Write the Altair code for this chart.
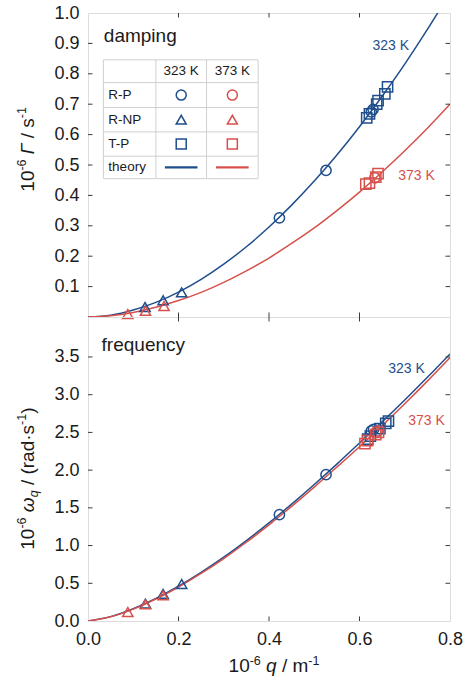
import altair as alt
import pandas as pd

# ---------------- data ----------------
q_grid = [0.0, 0.05, 0.10, 0.15, 0.20, 0.25, 0.30, 0.35, 0.40, 0.45, 0.50,
          0.55, 0.60, 0.65, 0.70, 0.75, 0.80]
gamma_theory_323 = [0.0, 0.006, 0.023, 0.048, 0.082, 0.124, 0.174, 0.231, 0.296,
                    0.368, 0.447, 0.533, 0.626, 0.726, 0.832, 0.946, 1.066]
gamma_theory_373 = [0.0, 0.004, 0.015, 0.032, 0.054, 0.081, 0.114, 0.152, 0.194,
                    0.242, 0.293, 0.350, 0.411, 0.477, 0.547, 0.621, 0.700]
omega_theory_323 = [0.0, 0.058, 0.163, 0.299, 0.461, 0.644, 0.846, 1.066, 1.30,
                    1.55, 1.81, 2.08, 2.36, 2.64, 2.93, 3.23, 3.54]
omega_theory_373 = [0.0, 0.056, 0.158, 0.292, 0.450, 0.630, 0.828, 1.044, 1.275,
                    1.52, 1.775, 2.04, 2.31, 2.59, 2.88, 3.18, 3.49]

# damping (Gamma) measurements
g_rp_323_q = [0.423, 0.526, 0.626, 0.630]
g_rp_323_v = [0.326, 0.482, 0.675, 0.683]
g_rp_373_q = [0.634]
g_rp_373_v = [0.458]
g_rnp_323_q = [0.126, 0.166, 0.207]
g_rnp_323_v = [0.033, 0.055, 0.081]
g_rnp_373_q = [0.088, 0.127, 0.168]
g_rnp_373_v = [0.010, 0.020, 0.036]
g_tp_323_q = [0.616, 0.622, 0.638, 0.641, 0.656, 0.662]
g_tp_323_v = [0.655, 0.668, 0.700, 0.712, 0.734, 0.757]
g_tp_373_q = [0.614, 0.622, 0.636, 0.641]
g_tp_373_v = [0.437, 0.440, 0.460, 0.472]

# frequency (omega) measurements
w_rp_323_q = [0.423, 0.526, 0.626, 0.631]
w_rp_323_v = [1.41, 1.94, 2.52, 2.54]
w_rp_373_q = [0.636, 0.640]
w_rp_373_v = [2.50, 2.52]
w_rnp_323_q = [0.127, 0.166, 0.207]
w_rnp_323_v = [0.23, 0.36, 0.49]
w_rnp_373_q = [0.088, 0.127, 0.166]
w_rnp_373_v = [0.12, 0.22, 0.34]
w_tp_323_q = [0.618, 0.624, 0.645, 0.658, 0.664]
w_tp_323_v = [2.41, 2.45, 2.55, 2.62, 2.65]
w_tp_373_q = [0.612, 0.618, 0.636, 0.642]
w_tp_373_v = [2.35, 2.39, 2.47, 2.50]

temps = ["323 K", "373 K"]
types = ["R-P", "R-NP", "T-P"]
x_ticks = [0.0, 0.2, 0.4, 0.6, 0.8]
g_ticks = [0.1, 0.2, 0.3, 0.4, 0.5, 0.6, 0.7, 0.8, 0.9, 1.0]
w_ticks = [0.0, 0.5, 1.0, 1.5, 2.0, 2.5, 3.0, 3.5]

# legend table geometry (in data units of the damping panel)
tab_cols = [0.034, 0.150, 0.262, 0.376]
tab_rows = [0.846, 0.771, 0.689, 0.609, 0.529, 0.455]
tab_labels = ["R-P", "R-NP", "T-P", "theory"]

# ---------------- style ----------------
BLUE = "#1F4E8C"
RED = "#D6504C"
FRAME = "#3c3c3c"
GRID = "#d0d0d0"
TXT = "#1a1a1a"
FONT = "Liberation Sans"
W = 362
H1 = 304
H2 = 304
TICK = 4.5

color_scale = alt.Scale(domain=temps, range=[BLUE, RED])
shape_scale = alt.Scale(domain=types, range=["circle", "triangle-up", "square"])
xscale = alt.Scale(domain=[0, 0.8], nice=False, zero=False)


def long_points(entries):
    rows = []
    for typ, temp, qs, vs in entries:
        for a, b in zip(qs, vs):
            rows.append({"q": a, "v": b, "temp": temp, "type": typ})
    return pd.DataFrame(rows)


def theory_df(v323, v373):
    rows = []
    for temp, vs in (("323 K", v323), ("373 K", v373)):
        for a, b in zip(q_grid, vs):
            rows.append({"q": a, "v": b, "temp": temp})
    return pd.DataFrame(rows)


AW = {'0': .556, '1': .556, '6': .556, '-': .333, ' ': .278, '/': .278, 's': .5,
      'Γ': .556, 'ω': .781, 'q': .556, '(': .333, ')': .333, 'r': .333, 'a': .556,
      'd': .556, '·': .333, 'm': .833}


def text_width(t, fs):
    return sum(AW.get(c, .556) for c in t) * fs


def rich_text(pieces, x, y, angle=0):
    total = sum(text_width(t, fs) for t, fs, _, _ in pieces)
    pos = -total / 2
    out = []
    anchor = pd.DataFrame({"a": [0]})
    for t, fs, style, shift in pieces:
        lead = len(t) - len(t.lstrip(" "))
        core = t.strip(" ")
        if core:
            out.append(alt.Chart(anchor).mark_text(
                text=core, fontSize=fs, fontStyle=style, font=FONT, align="left",
                baseline="alphabetic", angle=angle, dx=pos + lead * AW[' '] * fs, dy=shift,
                color=TXT
            ).encode(x=alt.value(x), y=alt.value(y)))
        pos += text_width(t, fs)
    return out


def panel(Xenc, Yenc, yvals_ticks, line_df, pt_df, height):
    layers = []
    lines = alt.Chart(line_df).mark_line(strokeWidth=1.5, interpolate="monotone", clip=True).encode(
        x=Xenc, y=Yenc, color=alt.Color("temp:N", scale=color_scale, legend=None),
        detail="temp:N")
    pts = alt.Chart(pt_df).mark_point(filled=False, size=105, strokeWidth=1.5, opacity=1).encode(
        x=Xenc, y=Yenc,
        color=alt.Color("temp:N", scale=color_scale, legend=None),
        shape=alt.Shape("type:N", scale=shape_scale, legend=None))
    layers += [lines, pts]
    yt = pd.DataFrame({"v": yvals_ticks})
    layers.append(alt.Chart(yt).mark_rule(color=FRAME, strokeWidth=1).encode(
        y=Yenc, x=alt.value(0), x2=alt.value(TICK)))
    layers.append(alt.Chart(yt).mark_rule(color=FRAME, strokeWidth=1).encode(
        y=Yenc, x=alt.value(W - TICK), x2=alt.value(W)))
    xt = pd.DataFrame({"q": [0.2, 0.4, 0.6]})
    layers.append(alt.Chart(xt).mark_rule(color=FRAME, strokeWidth=1).encode(
        x=Xenc, y=alt.value(0), y2=alt.value(TICK)))
    layers.append(alt.Chart(xt).mark_rule(color=FRAME, strokeWidth=1).encode(
        x=Xenc, y=alt.value(height - TICK), y2=alt.value(height)))
    return layers


# ---------------- top panel: damping ----------------
Xtop = alt.X("q:Q", scale=xscale, axis=None)
Ytop = alt.Y("v:Q", scale=alt.Scale(domain=[0, 1.0], nice=False),
             axis=alt.Axis(values=g_ticks, format=".1f", ticks=False, domain=False, grid=False,
                           labelFontSize=18, labelPadding=9, title=None, labelFont=FONT,
                           labelColor=TXT, labelFlush=False))

g_pts = long_points([
    ("R-P", "323 K", g_rp_323_q, g_rp_323_v), ("R-P", "373 K", g_rp_373_q, g_rp_373_v),
    ("R-NP", "323 K", g_rnp_323_q, g_rnp_323_v), ("R-NP", "373 K", g_rnp_373_q, g_rnp_373_v),
    ("T-P", "323 K", g_tp_323_q, g_tp_323_v), ("T-P", "373 K", g_tp_373_q, g_tp_373_v)])

top_layers = panel(Xtop, Ytop, [0.1, 0.2, 0.3, 0.4, 0.5, 0.6, 0.7, 0.8, 0.9],
                   theory_df(gamma_theory_323, gamma_theory_373), g_pts, H1)

# legend table
hrules = pd.DataFrame({"q": [tab_cols[0]] * len(tab_rows), "q2": [tab_cols[-1]] * len(tab_rows),
                       "v": tab_rows})
vrules = pd.DataFrame({"q": tab_cols, "v": [tab_rows[0]] * len(tab_cols),
                       "v2": [tab_rows[-1]] * len(tab_cols)})
top_layers.append(alt.Chart(hrules).mark_rule(color=GRID, strokeWidth=1).encode(
    x=Xtop, x2="q2:Q", y=Ytop))
top_layers.append(alt.Chart(vrules).mark_rule(color=GRID, strokeWidth=1).encode(
    x=Xtop, y=Ytop, y2="v2:Q"))
row_c = [(tab_rows[i] + tab_rows[i + 1]) / 2 for i in range(len(tab_rows) - 1)]
col_c = [(tab_cols[i] + tab_cols[i + 1]) / 2 for i in range(len(tab_cols) - 1)]
hdr = pd.DataFrame({"q": col_c[1:], "v": [row_c[0]] * 2, "t": temps})
top_layers.append(alt.Chart(hdr).mark_text(fontSize=13.5, font=FONT, color=TXT, baseline="middle",
                                           align="center").encode(x=Xtop, y=Ytop, text="t:N"))
rl = pd.DataFrame({"q": [tab_cols[0] + 0.011] * 4, "v": row_c[1:], "t": tab_labels})
top_layers.append(alt.Chart(rl).mark_text(fontSize=13.5, font=FONT, color=TXT, baseline="middle",
                                          align="left").encode(x=Xtop, y=Ytop, text="t:N"))
leg_rows = []
for ti, temp in enumerate(temps):
    for ri, typ in enumerate(types):
        leg_rows.append({"q": col_c[1 + ti], "v": row_c[1 + ri], "temp": temp, "type": typ})
top_layers.append(alt.Chart(pd.DataFrame(leg_rows)).mark_point(
    filled=False, size=100, strokeWidth=1.5, opacity=1).encode(
    x=Xtop, y=Ytop, color=alt.Color("temp:N", scale=color_scale, legend=None),
    shape=alt.Shape("type:N", scale=shape_scale, legend=None)))
leg_lines = pd.DataFrame({"q": [c - 0.036 for c in col_c[1:]], "q2": [c + 0.036 for c in col_c[1:]],
                          "v": [row_c[4]] * 2, "temp": temps})
top_layers.append(alt.Chart(leg_lines).mark_rule(strokeWidth=2.2).encode(
    x=Xtop, x2="q2:Q", y=Ytop, color=alt.Color("temp:N", scale=color_scale, legend=None)))

# panel texts
top_layers.append(alt.Chart(pd.DataFrame({"q": [0.035], "v": [0.904], "t": ["damping"]})).mark_text(
    fontSize=19, font=FONT, color=TXT, align="left", baseline="alphabetic").encode(
    x=Xtop, y=Ytop, text="t:N"))
ann_top = pd.DataFrame({"q": [0.669, 0.726], "v": [0.891, 0.465], "t": temps, "temp": temps})
top_layers.append(alt.Chart(ann_top).mark_text(fontSize=14, font=FONT, baseline="middle",
                                               align="center").encode(
    x=Xtop, y=Ytop, text="t:N", color=alt.Color("temp:N", scale=color_scale, legend=None)))

top_layers += rich_text([("10", 19, "normal", 0), ("-6", 12.5, "normal", -7.5), (" ", 19, "normal", 0),
                         ("Γ", 19, "italic", 0), (" / s", 19, "normal", 0), ("-1", 12.5, "normal", -7.5)],
                        -54.5, 136.4, angle=270)

top = alt.layer(*top_layers).properties(width=W, height=H1)

# ---------------- bottom panel: frequency ----------------
Xbot = alt.X("q:Q", scale=xscale,
             axis=alt.Axis(values=x_ticks, format=".1f", ticks=False, domain=False, grid=False,
                           labelFontSize=18, labelPadding=9, title=None, labelFont=FONT,
                           labelColor=TXT, labelFlush=False))
Ybot = alt.Y("v:Q", scale=alt.Scale(domain=[0, 4.03], nice=False),
             axis=alt.Axis(values=w_ticks, format=".1f", ticks=False, domain=False, grid=False,
                           labelFontSize=18, labelPadding=9, title=None, labelFont=FONT,
                           labelColor=TXT, labelFlush=False))

w_pts = long_points([
    ("R-P", "323 K", w_rp_323_q, w_rp_323_v), ("R-P", "373 K", w_rp_373_q, w_rp_373_v),
    ("R-NP", "323 K", w_rnp_323_q, w_rnp_323_v), ("R-NP", "373 K", w_rnp_373_q, w_rnp_373_v),
    ("T-P", "323 K", w_tp_323_q, w_tp_323_v), ("T-P", "373 K", w_tp_373_q, w_tp_373_v)])

bot_layers = panel(Xbot, Ybot, [0.5, 1.0, 1.5, 2.0, 2.5, 3.0, 3.5],
                   theory_df(omega_theory_323, omega_theory_373), w_pts, H2)
bot_layers.append(alt.Chart(pd.DataFrame({"q": [0.030], "v": [3.58], "t": ["frequency"]})).mark_text(
    fontSize=19, font=FONT, color=TXT, align="left", baseline="alphabetic").encode(
    x=Xbot, y=Ybot, text="t:N"))
ann_bot = pd.DataFrame({"q": [0.704, 0.748], "v": [3.342, 2.652], "t": temps, "temp": temps})
bot_layers.append(alt.Chart(ann_bot).mark_text(fontSize=14, font=FONT, baseline="middle",
                                               align="center").encode(
    x=Xbot, y=Ybot, text="t:N", color=alt.Color("temp:N", scale=color_scale, legend=None)))

bot_layers += rich_text([("10", 19, "normal", 0), ("-6", 12.5, "normal", -7.5), (" ", 19, "normal", 0),
                         ("ω", 19, "italic", 0), ("q", 12.5, "italic", 4.5),
                         (" / (rad·s", 19, "normal", 0), ("-1", 12.5, "normal", -7.5),
                         (")", 19, "normal", 0)],
                        -54.5, 161.6, angle=270)
bot_layers += rich_text([("10", 19, "normal", 0), ("-6", 12.5, "normal", -7.5), (" ", 19, "normal", 0),
                         ("q", 19, "italic", 0), (" / m", 19, "normal", 0),
                         ("-1", 12.5, "normal", -7.5)],
                        186, 355.3, angle=0)

bottom = alt.layer(*bot_layers).properties(width=W, height=H2)

chart = alt.vconcat(top, bottom, spacing=0, bounds="flush").properties(
    padding={"left": 15, "top": 3, "right": 8, "bottom": 3}
).configure_view(stroke=FRAME, strokeWidth=1.3).configure(font=FONT)

chart.save("out.html", embed_options={"renderer": "svg", "actions": False})
